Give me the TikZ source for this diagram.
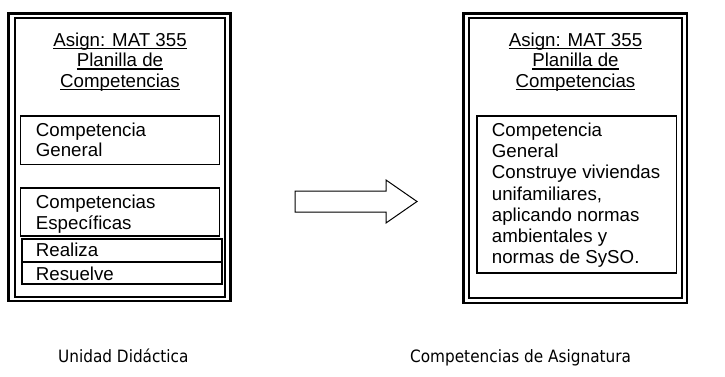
\documentclass[tikz,border=0pt]{standalone}
\usepackage{fontspec}
\setmainfont{Liberation Sans}
\newfontfamily\labelfont{DejaVu Sans Condensed}
\usetikzlibrary{calc}

% underline at a fixed distance below the baseline
\newcommand\ulin[1]{\setbox0\hbox{#1}\rlap{\rule[-2.8pt]{\wd0}{1.1pt}}\box0}

% multi-line nodes below are placed by the baseline of their last line
\tikzset{
  frameout/.style={draw=black, line width=2.8pt},
  framein/.style={draw=black, line width=2pt},
  itembox/.style={draw=black, line width=1.8pt},
  body/.style={inner sep=0pt, font=\fontsize{18.7}{20.7}\selectfont},
  titletext/.style={body, align=center, anchor=base},
  itemtext/.style={body, align=left, anchor=base west},
  longtext/.style={itemtext, font=\fontsize{18.7}{21.1}\selectfont},
  caption/.style={inner sep=0pt, anchor=base west, font=\labelfont\fontsize{17}{20}\selectfont},
  blockarrow/.style={draw=black, line width=1pt, fill=white, line join=miter}
}

\begin{document}
\begin{tikzpicture}[x=1pt, y=-1pt]
\useasboundingbox (0,0) rectangle (725,377);

% ---- left sheet: Unidad Didactica ----
\draw[frameout] (8.7,13.7) rectangle (230.3,301);
\draw[framein]  (14.5,18.3) rectangle (224.7,297);

\node[titletext] (ltitle) at (120,87.5)
  {\ulin{Asign: MAT 355}\\\ulin{Planilla de}\\\ulin{Competencias}};

\draw[itembox] (20.5,116) rectangle (219.5,164.5);
\node[itemtext] (lgen) at (35.7,156.7) {Competencia\\General};

\draw[itembox] (20.5,188.3) rectangle (219.5,236);
\node[itemtext] (lesp) at (35.7,229.5) {Competencias\\Específicas};

\draw[itembox] (21.7,239.3) rectangle (221.7,262);
\node[itemtext] (lrea) at (35.7,256.7) {Realiza};

\draw[itembox] (21.7,262) rectangle (221.7,284.3);
\node[itemtext] (lres) at (35.7,280) {Resuelve};

% ---- block arrow ----
\draw[blockarrow] (295,191) -- (386,191) -- (386,180) -- (417,201.5)
  -- (386,223) -- (386,212) -- (295,212) -- cycle;

% ---- right sheet: Competencias de Asignatura ----
\draw[frameout] (463.5,13.5) rectangle (687,303);
\draw[framein]  (469,18.5) rectangle (682,298);

\node[titletext] (rtitle) at (575.5,87.5)
  {\ulin{Asign: MAT 355}\\\ulin{Planilla de}\\\ulin{Competencias}};

\draw[itembox] (477,116) rectangle (676.5,273);
\node[longtext] (rgen) at (491.7,263.3)
  {Competencia\\General\\Construye viviendas\\unifamiliares,\\aplicando normas\\ambientales y\\normas de SySO.};

% ---- captions ----
\node[caption] (capl) at (58,362) {Unidad Didáctica};
\node[caption] (capr) at (410,362) {Competencias de Asignatura};
\end{tikzpicture}
\end{document}
